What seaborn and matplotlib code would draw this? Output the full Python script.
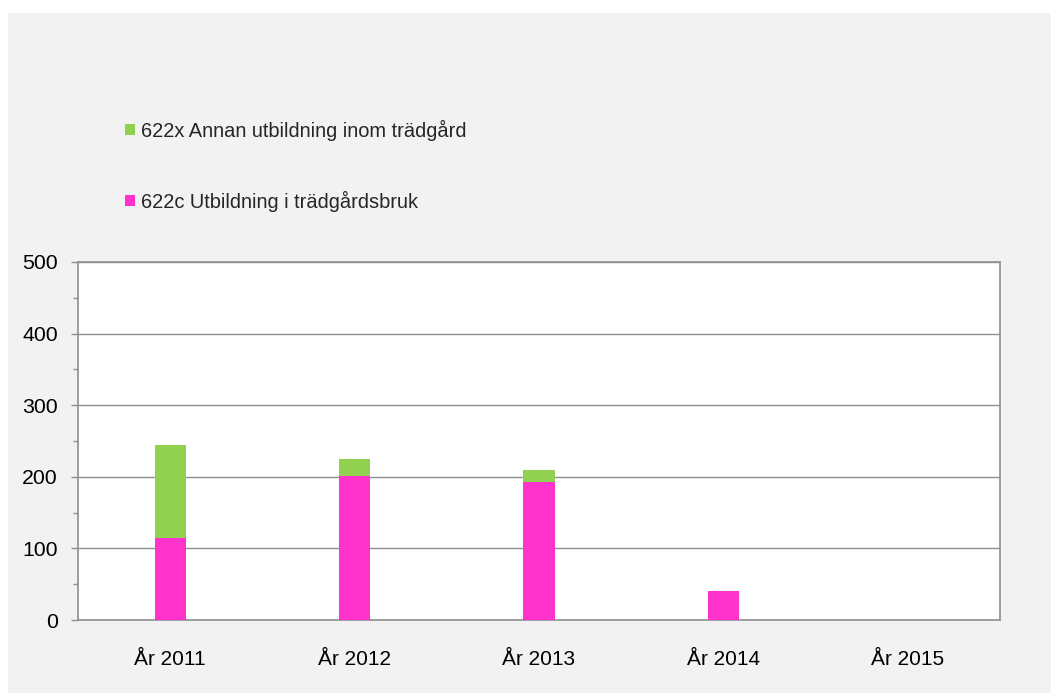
import numpy as np
import pandas as pd
import matplotlib
matplotlib.use("Agg")
import matplotlib.pyplot as plt
import seaborn as sns
from matplotlib.patches import Patch, Rectangle
from matplotlib.ticker import MultipleLocator, FixedLocator

# ---- data ----
years = ["År 2011", "År 2012", "År 2013", "År 2014", "År 2015"]
utb_tradgardsbruk = [115, 201, 193, 41, 0]     # 622c
annan_utb_tradgard = [130, 24, 17, 0, 0]       # 622x
label_c = "622c Utbildning i trädgårdsbruk"
label_x = "622x Annan utbildning inom trädgård"
y_ticks = [0, 100, 200, 300, 400, 500]

pink = "#FF33CC"
green = "#92D050"
axis_gray = "#8f8f8f"

sns.set_style("white")
plt.rcParams["font.family"] = ["Liberation Sans", "DejaVu Sans"]

df = pd.DataFrame({"year": years, "c": utb_tradgardsbruk, "x": annan_utb_tradgard})
df["total"] = df["c"] + df["x"]

W, H = 1051, 693
fig = plt.figure(figsize=(W / 100, H / 100), dpi=100, facecolor="white")
fig.patches.append(Rectangle((8 / W, 0), 1 - 8 / W, 1 - 13 / H, transform=fig.transFigure,
                             facecolor="#f2f2f2", edgecolor="none", zorder=-10))

ax = fig.add_axes([78 / W, (H - 620) / H, (1000 - 78) / W, (620 - 262) / H])
ax.set_facecolor("white")

sns.barplot(data=df, x="year", y="total", color=green, width=0.17, saturation=1,
            ax=ax, zorder=3, edgecolor="none")
sns.barplot(data=df, x="year", y="c", color=pink, width=0.17, saturation=1,
            ax=ax, zorder=4, edgecolor="none")

ax.set_xlim(-0.5, len(years) - 0.5)
ax.set_ylim(0, 500)
ax.set_yticks(y_ticks)
ax.yaxis.set_minor_locator(MultipleLocator(50))
ax.xaxis.set_minor_locator(FixedLocator(np.arange(-0.5, len(years), 1.0)))
ax.set_xlabel("")
ax.set_ylabel("")

ax.yaxis.grid(True, color=axis_gray, linewidth=1.0, zorder=1)
ax.set_axisbelow(True)
for s in ax.spines.values():
    s.set_color(axis_gray)
    s.set_linewidth(1.2)
    s.set_visible(True)

ax.tick_params(axis="x", which="major", length=0, pad=21.5, labelsize=15, labelcolor="black")
ax.tick_params(axis="x", which="minor", length=5.5, width=1.0, color=axis_gray, direction="out")
ax.tick_params(axis="y", which="major", length=5, width=1.0, color=axis_gray, pad=9.5,
               labelsize=15.3, labelcolor="black", left=True)
ax.tick_params(axis="y", which="minor", length=3.5, width=1.0, color=axis_gray, left=True)

handles = [Patch(facecolor=green, edgecolor="none"), Patch(facecolor=pink, edgecolor="none")]
fig.legend(handles, [label_x, label_c], loc="upper left",
           bbox_to_anchor=(125 / W, 1 - 119.5 / H), frameon=False, fontsize=14.4,
           handlelength=0.5, handleheight=0.5, handletextpad=0.28,
           labelspacing=2.5, borderpad=0, borderaxespad=0)

fig.savefig("out.png", dpi=100, facecolor="white")
